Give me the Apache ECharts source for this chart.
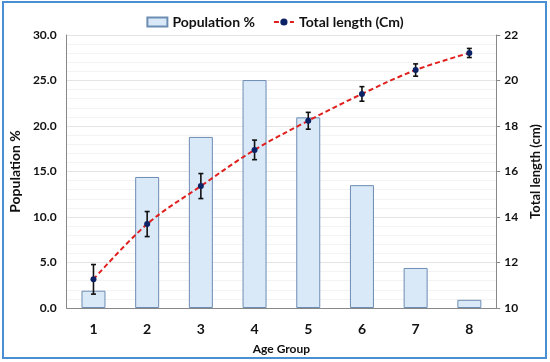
<!DOCTYPE html>
<html><head><meta charset="utf-8">
<script src="https://cdn.jsdelivr.net/npm/echarts@6/dist/echarts.min.js"></script>
<style>html,body{margin:0;padding:0;background:#fff}#c{width:550px;height:362px}</style>
</head><body><div id="c"></div>
<script>
const categories = ['1','2','3','4','5','6','7','8'];
const population = [1.9, 14.4, 18.8, 25.05, 20.95, 13.5, 4.4, 0.9];
const totalLength = [11.26, 13.69, 15.36, 16.95, 18.23, 19.41, 20.46, 21.21];
const lengthErr = [0.65, 0.55, 0.55, 0.43, 0.37, 0.32, 0.27, 0.2];

const font = 'Lato, "Open Sans", sans-serif';
const chart = echarts.init(document.getElementById('c'));
chart.setOption({
  animation: false,
  textStyle: { fontFamily: font },
  graphic: [{ type: 'rect', shape: { x: 3, y: 2, width: 543, height: 356 }, style: { fill: 'none', stroke: '#4a8fd4', lineWidth: 2 }, silent: true }],
  legend: {
    data: [{ name: 'Population %', icon: 'rect' }, { name: 'Total length (Cm)' }],
    top: 10, left: 'center', itemGap: 18, itemWidth: 20, itemHeight: 9,
    textStyle: { fontFamily: font, fontWeight: 'bold', fontSize: 14, color: '#111' }
  },
  grid: { left: 57, right: 51, top: 35, bottom: 54 },
  xAxis: {
    type: 'category', data: categories,
    axisLine: { lineStyle: { color: '#888' } }, axisTick: { show: false },
    axisLabel: { fontFamily: font, fontWeight: 'bold', fontSize: 14, color: '#111', margin: 14 },
    name: 'Age Group', nameLocation: 'middle', nameGap: 35,
    nameTextStyle: { fontFamily: font, fontWeight: 'bold', fontSize: 12, color: '#111' }
  },
  yAxis: [{
    type: 'value', min: 0, max: 30, interval: 5,
    axisLine: { show: true, lineStyle: { color: '#888' } }, axisTick: { show: false },
    axisLabel: { formatter: v => v.toFixed(1), fontFamily: font, fontWeight: 'bold', fontSize: 12, color: '#111', margin: 10 },
    splitLine: { lineStyle: { color: '#e4e4e4' } },
    minorTick: { show: false, splitNumber: 5 },
    minorSplitLine: { show: true, lineStyle: { color: '#f3f3f3' } },
    name: 'Population %', nameLocation: 'middle', nameGap: 34, nameRotate: 90,
    nameTextStyle: { fontFamily: font, fontWeight: 'bold', fontSize: 14, color: '#111' }
  }, {
    type: 'value', min: 10, max: 22, interval: 2,
    axisLine: { show: true, lineStyle: { color: '#888' } },
    axisTick: { show: true, length: 4, lineStyle: { color: '#888' } },
    axisLabel: { fontFamily: font, fontWeight: 'bold', fontSize: 12, color: '#111', margin: 8 },
    splitLine: { show: false },
    name: 'Total length (cm)', nameLocation: 'middle', nameGap: 26, nameRotate: 90,
    nameTextStyle: { fontFamily: font, fontWeight: 'bold', fontSize: 13, color: '#111' }
  }],
  series: [{
    name: 'Population %', type: 'bar', data: population, barWidth: 24, yAxisIndex: 0,
    itemStyle: { color: '#d9e9f8', borderColor: '#6d8db3', borderWidth: 1 }
  }, {
    name: 'Total length (Cm)', type: 'line', data: totalLength, yAxisIndex: 1, smooth: 0.35,
    symbol: 'circle', symbolSize: 6, z: 5,
    lineStyle: { color: '#e0201e', width: 2, type: [5, 3] },
    itemStyle: { color: '#0b2366' }
  }, {
    name: 'err', type: 'custom', yAxisIndex: 1, z: 4,
    data: totalLength.map((v, i) => [i, v - lengthErr[i], v + lengthErr[i]]),
    renderItem: (params, api) => {
      const lo = api.coord([api.value(0), api.value(1)]);
      const hi = api.coord([api.value(0), api.value(2)]);
      const x = lo[0], w = 2.5;
      const st = { stroke: '#111', lineWidth: 1.6 };
      return { type: 'group', children: [
        { type: 'line', shape: { x1: x, y1: lo[1], x2: x, y2: hi[1] }, style: st },
        { type: 'line', shape: { x1: x - w, y1: lo[1], x2: x + w, y2: lo[1] }, style: st },
        { type: 'line', shape: { x1: x - w, y1: hi[1], x2: x + w, y2: hi[1] }, style: st }
      ]};
    }
  }]
});
</script></body></html>
